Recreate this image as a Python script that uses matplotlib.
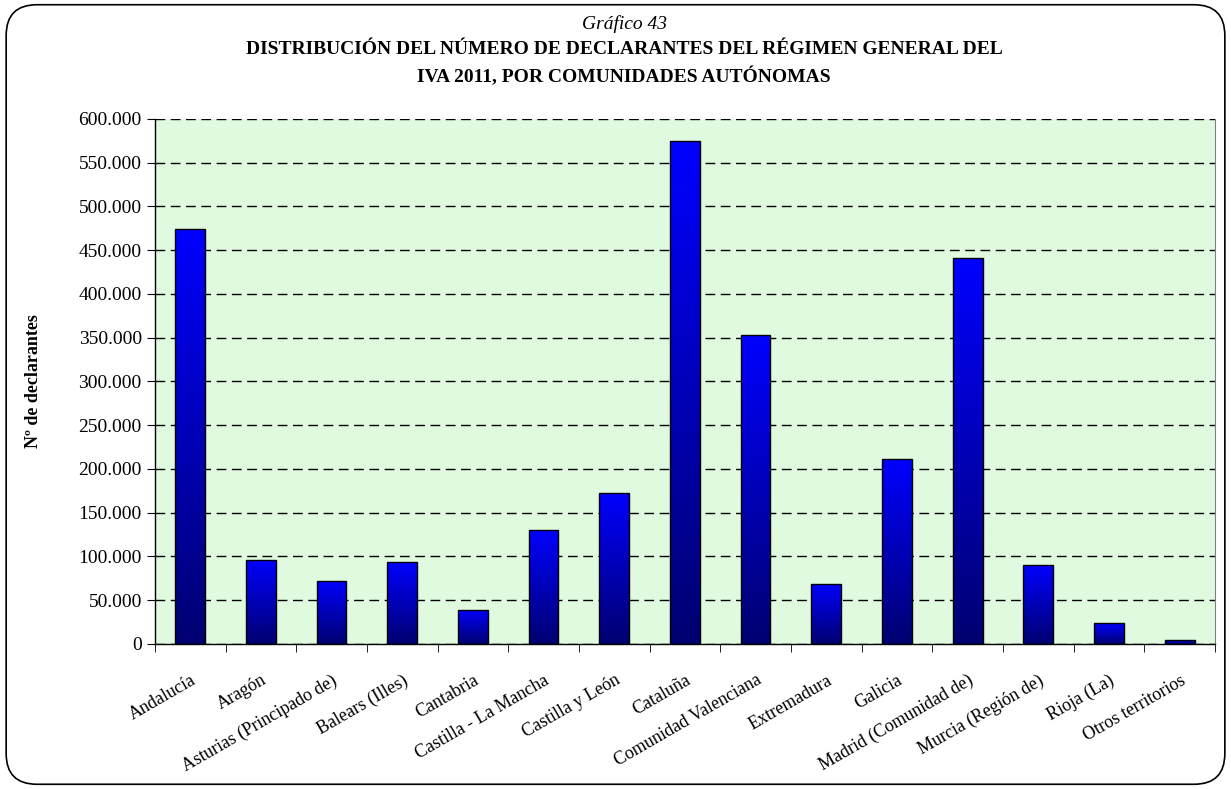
import matplotlib
matplotlib.use('Agg')
import matplotlib.pyplot as plt
import numpy as np
from matplotlib.patches import FancyBboxPatch
from matplotlib.colors import LinearSegmentedColormap
from matplotlib.ticker import FuncFormatter, FixedLocator

plt.rcParams['font.family'] = ['Liberation Serif', 'DejaVu Serif']

comunidades = ['Andalucía', 'Aragón', 'Asturias (Principado de)', 'Balears (Illes)',
               'Cantabria', 'Castilla - La Mancha', 'Castilla y León', 'Cataluña',
               'Comunidad Valenciana', 'Extremadura', 'Galicia', 'Madrid (Comunidad de)',
               'Murcia (Región de)', 'Rioja (La)', 'Otros territorios']
declarantes = [474000, 96000, 72300, 93300, 38900, 130000, 172600, 575000,
               353000, 68600, 211000, 441000, 90600, 23600, 4600]

fig = plt.figure(figsize=(12.31, 7.89), dpi=100)
ax = fig.add_axes([0.1259, 0.1838, 0.8611, 0.6654])

# rounded frame around the whole chart
frame = FancyBboxPatch((0.005, 0.006), 0.99, 0.988, boxstyle='round,pad=0,rounding_size=0.025',
                       transform=fig.transFigure, facecolor='none', edgecolor='black',
                       linewidth=1.2, mutation_aspect=1231 / 789)
fig.patches.append(frame)

ax.set_facecolor('#e0fae0')
x = np.arange(len(comunidades))
bars = ax.bar(x, declarantes, width=0.42, color='none', edgecolor='black', linewidth=1.0, zorder=3)

# vertical gradient inside each bar: navy at the base, bright blue at the top
cmap = LinearSegmentedColormap.from_list('azul', ['#000070', '#0000ff'])
grad = np.linspace(0, 1, 256).reshape(-1, 1)
for b in bars:
    x0, y0 = b.get_x(), b.get_y()
    im = ax.imshow(grad, cmap=cmap, origin='lower', aspect='auto', zorder=2,
                   extent=[x0, x0 + b.get_width(), y0, y0 + b.get_height()])
    im.set_clip_path(b)

ax.set_xlim(-0.5, len(comunidades) - 0.5)
ax.set_ylim(0, 600000)
ax.yaxis.set_major_locator(FixedLocator(np.arange(0, 600001, 50000)))
ax.yaxis.set_major_formatter(FuncFormatter(lambda v, p: f'{int(v):,}'.replace(',', '.')))
ax.yaxis.grid(True, linestyle=(0, (7, 4)), color='black', linewidth=1.0, zorder=1)
ax.set_axisbelow(True)

ax.set_xticks(x)
ax.set_xticklabels(comunidades, rotation=30, ha='right', va='top', rotation_mode='anchor', fontsize=13)
ax.tick_params(axis='x', length=0, pad=20)
ax.set_xticks(np.arange(-0.5, len(comunidades)), minor=True)
ax.tick_params(axis='x', which='minor', length=6, direction='out')
ax.tick_params(axis='y', labelsize=14, length=6, direction='out')

ax.spines['top'].set_visible(False)
ax.spines['right'].set_color('#808080')
for s in ['left', 'bottom']:
    ax.spines[s].set_linewidth(1.0)

ax.set_ylabel('Nº de declarantes', fontsize=13, fontweight='bold', labelpad=26)

fig.text(0.507, 0.970, 'Gráfico 43', ha='center', va='center', fontsize=14, style='italic')
fig.text(0.507, 0.937, 'DISTRIBUCIÓN DEL NÚMERO DE DECLARANTES DEL RÉGIMEN GENERAL DEL',
         ha='center', va='center', fontsize=14, fontweight='bold')
fig.text(0.507, 0.903, 'IVA 2011, POR COMUNIDADES AUTÓNOMAS',
         ha='center', va='center', fontsize=14, fontweight='bold')

fig.savefig('out.png', dpi=100, facecolor='white')
